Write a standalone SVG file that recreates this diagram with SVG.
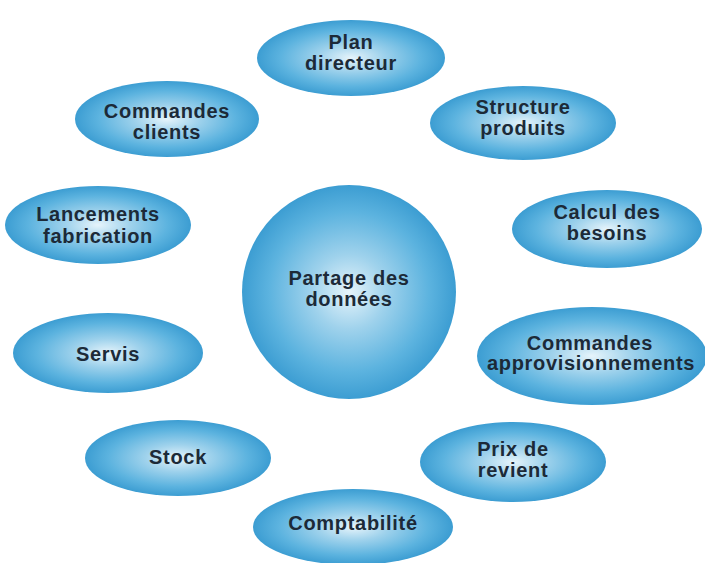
<svg xmlns="http://www.w3.org/2000/svg" width="705" height="563" viewBox="0 0 705 563">
<defs>
<radialGradient id="blue" cx="50%" cy="50%" r="50%">
<stop offset="0%" stop-color="#e6f4fb"/>
<stop offset="35%" stop-color="#9fd2ec"/>
<stop offset="75%" stop-color="#5cb3df"/>
<stop offset="100%" stop-color="#3c9dd2"/>
</radialGradient>
</defs>
<style>
.n{fill:url(#blue);}
.t{font-family:"Liberation Sans",Arial,sans-serif;font-size:20px;font-weight:bold;fill:#1c2a38;text-anchor:middle;letter-spacing:0.7px;}
</style>
<rect width="705" height="563" fill="#ffffff"/>
<g id="connectors"></g>
<g id="center">
<circle class="n" cx="349" cy="292" r="107"/>
<text class="t" x="349" y="285">Partage des</text>
<text class="t" x="349" y="306">données</text>
</g>
<g id="plan">
<ellipse class="n" cx="351" cy="58" rx="94" ry="38"/>
<text class="t" x="351" y="49">Plan</text>
<text class="t" x="351" y="70">directeur</text>
</g>
<g id="cmdclients">
<ellipse class="n" cx="167" cy="119" rx="92" ry="38"/>
<text class="t" x="167" y="118">Commandes</text>
<text class="t" x="167" y="139">clients</text>
</g>
<g id="structure">
<ellipse class="n" cx="523" cy="123" rx="93" ry="37"/>
<text class="t" x="523" y="114">Structure</text>
<text class="t" x="523" y="135">produits</text>
</g>
<g id="lancements">
<ellipse class="n" cx="98" cy="225" rx="93" ry="39"/>
<text class="t" x="98" y="221">Lancements</text>
<text class="t" x="98" y="243">fabrication</text>
</g>
<g id="calcul">
<ellipse class="n" cx="607" cy="229" rx="95" ry="39"/>
<text class="t" x="607" y="219">Calcul des</text>
<text class="t" x="607" y="240">besoins</text>
</g>
<g id="servis">
<ellipse class="n" cx="108" cy="353" rx="95" ry="40"/>
<text class="t" x="108" y="361">Servis</text>
</g>
<g id="cmdappro">
<ellipse class="n" cx="592" cy="356" rx="115" ry="49"/>
<text class="t" x="590" y="350">Commandes</text>
<text class="t" x="591" y="370">approvisionnements</text>
</g>
<g id="stock">
<ellipse class="n" cx="178" cy="458" rx="93" ry="38"/>
<text class="t" x="178" y="464">Stock</text>
</g>
<g id="prix">
<ellipse class="n" cx="513" cy="462" rx="93" ry="40"/>
<text class="t" x="513" y="456">Prix de</text>
<text class="t" x="513" y="477">revient</text>
</g>
<g id="compta">
<ellipse class="n" cx="353" cy="527" rx="100" ry="38"/>
<text class="t" x="353" y="530">Comptabilité</text>
</g>
</svg>
